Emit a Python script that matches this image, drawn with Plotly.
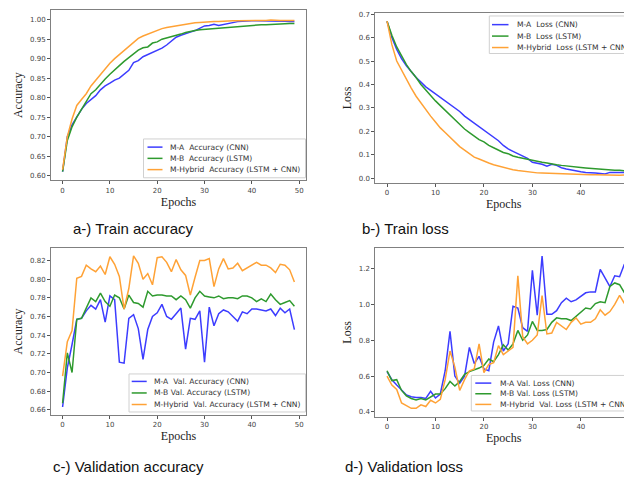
import plotly.graph_objects as go

epochs = list(range(50))

# a) Train accuracy
train_acc_cnn = [0.610, 0.700, 0.730, 0.750, 0.770, 0.785, 0.795, 0.805, 0.820, 0.830,
                 0.837, 0.845, 0.850, 0.860, 0.870, 0.890, 0.895, 0.905, 0.910, 0.915,
                 0.920, 0.927, 0.935, 0.945, 0.955, 0.960, 0.965, 0.968, 0.972, 0.978,
                 0.984, 0.985, 0.988, 0.985, 0.988, 0.990, 0.993, 0.995, 0.996, 0.997,
                 0.997, 0.997, 0.997, 0.997, 0.997, 0.996, 0.996, 0.996, 0.995, 0.995]
train_acc_lstm = [0.610, 0.690, 0.725, 0.750, 0.770, 0.790, 0.810, 0.820, 0.835, 0.848,
                  0.860, 0.872, 0.882, 0.893, 0.903, 0.913, 0.922, 0.928, 0.930, 0.940,
                  0.943, 0.950, 0.953, 0.956, 0.960, 0.963, 0.967, 0.970, 0.972, 0.974,
                  0.975, 0.977, 0.978, 0.979, 0.980, 0.981, 0.982, 0.983, 0.984, 0.985,
                  0.985, 0.986, 0.987, 0.987, 0.988, 0.988, 0.989, 0.990, 0.990, 0.990]
train_acc_hybrid = [0.615, 0.700, 0.745, 0.780, 0.795, 0.810, 0.830, 0.845, 0.860, 0.875,
                    0.888, 0.900, 0.910, 0.920, 0.930, 0.940, 0.952, 0.958, 0.963, 0.968,
                    0.972, 0.977, 0.980, 0.982, 0.984, 0.987, 0.989, 0.990, 0.992, 0.993,
                    0.994, 0.994, 0.995, 0.995, 0.996, 0.996, 0.997, 0.997, 0.997, 0.998,
                    0.998, 0.998, 0.998, 0.998, 0.999, 0.998, 0.998, 0.998, 0.998, 0.998]

# b) Train loss
train_loss_cnn = [0.670, 0.600, 0.550, 0.510, 0.480, 0.455, 0.430, 0.410, 0.390, 0.375,
                  0.360, 0.345, 0.330, 0.315, 0.300, 0.285, 0.265, 0.250, 0.235, 0.220,
                  0.205, 0.190, 0.175, 0.160, 0.140, 0.125, 0.115, 0.105, 0.095, 0.085,
                  0.068, 0.065, 0.060, 0.052, 0.060, 0.055, 0.045, 0.040, 0.035, 0.030,
                  0.028, 0.025, 0.025, 0.022, 0.020, 0.018, 0.025, 0.025, 0.025, 0.025]
train_loss_lstm = [0.670, 0.610, 0.560, 0.520, 0.485, 0.455, 0.430, 0.400, 0.375, 0.350,
                   0.330, 0.310, 0.290, 0.270, 0.250, 0.230, 0.210, 0.195, 0.180, 0.165,
                   0.155, 0.140, 0.130, 0.120, 0.110, 0.105, 0.095, 0.090, 0.085, 0.080,
                   0.075, 0.070, 0.068, 0.065, 0.060, 0.058, 0.055, 0.052, 0.050, 0.048,
                   0.046, 0.044, 0.042, 0.040, 0.040, 0.038, 0.036, 0.034, 0.034, 0.032]
train_loss_hybrid = [0.670, 0.570, 0.500, 0.460, 0.420, 0.385, 0.350, 0.320, 0.290, 0.265,
                     0.240, 0.215, 0.195, 0.175, 0.155, 0.135, 0.120, 0.105, 0.090, 0.082,
                     0.072, 0.065, 0.058, 0.052, 0.046, 0.040, 0.036, 0.033, 0.030, 0.027,
                     0.025, 0.023, 0.022, 0.021, 0.020, 0.019, 0.018, 0.017, 0.017, 0.016,
                     0.016, 0.015, 0.015, 0.015, 0.014, 0.014, 0.014, 0.014, 0.013, 0.014]

# c) Validation accuracy
val_acc_cnn = [0.663, 0.705, 0.730, 0.757, 0.758, 0.766, 0.772, 0.768, 0.778, 0.754,
               0.782, 0.778, 0.711, 0.710, 0.758, 0.762, 0.747, 0.714, 0.746, 0.760,
               0.764, 0.773, 0.760, 0.757, 0.763, 0.769, 0.725, 0.758, 0.757, 0.766,
               0.711, 0.770, 0.750, 0.763, 0.767, 0.765, 0.760, 0.755, 0.765, 0.763,
               0.768, 0.768, 0.767, 0.766, 0.768, 0.761, 0.769, 0.764, 0.768, 0.746]
val_acc_lstm = [0.667, 0.721, 0.700, 0.757, 0.758, 0.770, 0.780, 0.776, 0.785, 0.776,
                0.771, 0.783, 0.780, 0.768, 0.783, 0.775, 0.774, 0.770, 0.787, 0.782,
                0.783, 0.783, 0.782, 0.782, 0.778, 0.782, 0.778, 0.769, 0.780, 0.787,
                0.782, 0.781, 0.780, 0.782, 0.779, 0.780, 0.780, 0.779, 0.782, 0.782,
                0.780, 0.776, 0.779, 0.776, 0.784, 0.778, 0.773, 0.775, 0.777, 0.771]
val_acc_hybrid = [0.696, 0.733, 0.745, 0.801, 0.803, 0.815, 0.811, 0.808, 0.814, 0.805,
                  0.824, 0.816, 0.803, 0.768, 0.790, 0.825, 0.817, 0.800, 0.806, 0.794,
                  0.823, 0.824, 0.818, 0.808, 0.821, 0.810, 0.804, 0.783, 0.802, 0.820,
                  0.820, 0.822, 0.792, 0.811, 0.822, 0.811, 0.812, 0.817, 0.809, 0.812,
                  0.815, 0.818, 0.815, 0.815, 0.812, 0.807, 0.816, 0.815, 0.810, 0.797]

# d) Validation loss
val_loss_cnn = [0.625, 0.580, 0.550, 0.520, 0.495, 0.485, 0.480, 0.480, 0.475, 0.515,
                0.478, 0.500, 0.630, 0.850, 0.600, 0.560, 0.600, 0.760, 0.670, 0.710,
                0.640, 0.630, 0.790, 0.880, 0.740, 0.780, 0.990, 0.980, 0.870, 0.850,
                1.190, 0.940, 1.270, 0.945, 0.945, 0.965, 1.010, 1.035, 1.015, 1.025,
                1.045, 1.065, 1.070, 1.070, 1.195, 1.150, 1.100, 1.160, 1.155, 1.225]
val_loss_lstm = [0.630, 0.575, 0.580, 0.520, 0.490, 0.475, 0.467, 0.475, 0.467, 0.485,
                 0.500, 0.500, 0.530, 0.570, 0.545, 0.570, 0.610, 0.625, 0.635, 0.645,
                 0.660, 0.695, 0.680, 0.720, 0.775, 0.745, 0.780, 0.855, 0.800, 0.830,
                 0.905, 0.855, 0.855, 0.860, 0.900, 0.925, 0.920, 0.920, 0.910, 0.935,
                 0.955, 0.980, 0.975, 1.005, 1.015, 1.010, 1.100, 1.120, 1.110, 1.065]
val_loss_hybrid = [0.600, 0.550, 0.525, 0.450, 0.435, 0.420, 0.420, 0.440, 0.430, 0.465,
                   0.450, 0.470, 0.580, 0.740, 0.650, 0.520, 0.580, 0.630, 0.640, 0.780,
                   0.620, 0.665, 0.675, 0.770, 0.720, 0.740, 0.760, 1.160, 0.820, 0.780,
                   0.800, 0.830, 1.050, 0.835, 0.840, 0.900, 0.880, 0.860, 0.900, 0.925,
                   0.890, 0.900, 0.900, 0.920, 0.970, 0.940, 0.960, 1.000, 1.050, 1.005]

names_a = ["M-A  Accuracy (CNN)", "M-B  Accuracy (LSTM)", "M-Hybrid  Accuracy (LSTM + CNN)"]
names_b = ["M-A  Loss (CNN)", "M-B  Loss (LSTM)", "M-Hybrid  Loss (LSTM + CNN)"]
names_c = ["M-A  Val. Accuracy (CNN)", "M-B Val. Accuracy (LSTM)", "M-Hybrid  Val. Accuracy (LSTM + CNN)"]
names_d = ["M-A Val. Loss (CNN)", "M-B Val. Loss (LSTM)", "M-Hybrid  Val. Loss (LSTM + CNN)"]
captions = ["a-) Train accuracy", "b-) Train loss", "c-) Validation accuracy", "d-) Validation loss"]

colors = ["#3c3cff", "#2e9a2e", "#ffa236"]

# Window is 632x477, the page body has an 8px margin, so the figure is 624x469
# and window pixel (px, py) maps to paper coords below.
WIN_W, WIN_H = 632, 477
OFF = 8
W, H = WIN_W - OFF, WIN_H - OFF

def PX(px):
    return min(max((px - OFF) / W, 0.0), 1.0)

def PY(py):
    return min(max((WIN_H - py) / H, 0.0), 1.0)

fig = go.Figure()

panels = [
    ("x", "y", names_a, [train_acc_cnn, train_acc_lstm, train_acc_hybrid]),
    ("x2", "y2", names_b, [train_loss_cnn, train_loss_lstm, train_loss_hybrid]),
    ("x3", "y3", names_c, [val_acc_cnn, val_acc_lstm, val_acc_hybrid]),
    ("x4", "y4", names_d, [val_loss_cnn, val_loss_lstm, val_loss_hybrid]),
]
for xa, ya, names, series in panels:
    for name, vals, col in zip(names, series, colors):
        fig.add_trace(go.Scatter(x=epochs, y=vals, mode="lines", name=name,
                                 line=dict(color=col, width=1.5),
                                 xaxis=xa, yaxis=ya, showlegend=False))

tickfont = dict(family="DejaVu Sans", size=7, color="#444444")
titlefont = dict(family="Liberation Serif", size=12, color="#222222")
framecol = "#808080"

def xax(l, r, anchor, rng):
    return dict(domain=[PX(l), PX(r)], anchor=anchor, range=rng,
                tickmode="linear", tick0=0, dtick=10,
                ticks="outside", ticklen=3, tickcolor="#555555", tickfont=tickfont,
                showline=True, linecolor=framecol, linewidth=1, mirror=True,
                showgrid=False, zeroline=False,
                title=dict(text="Epochs", font=titlefont, standoff=2))

def yax(top, bot, anchor, rng, dtick, fmt, mirror=True, title=""):
    return dict(domain=[PY(bot), PY(top)], anchor=anchor, range=rng,
                tickmode="linear", tick0=0, dtick=dtick, tickformat=fmt,
                ticks="outside", ticklen=3, tickcolor="#555555", tickfont=tickfont,
                showline=True, linecolor=framecol, linewidth=1, mirror=mirror,
                showgrid=False, zeroline=False,
                title=dict(text=title, font=titlefont, standoff=4))

fig.update_layout(
    width=W, height=H, margin=dict(l=0, r=0, t=0, b=0),
    paper_bgcolor="white", plot_bgcolor="white", showlegend=False,
    xaxis=xax(51, 306, "y", [-2.45, 51.45]),
    yaxis=yax(8.0, 179, "x", [0.588, 1.0248], 0.05, ".2f", title="Accuracy"),
    xaxis2=xax(375.3, 632, "y2", [-2.42, 50.56]),
    yaxis2=yax(11, 181.7, "x2", [-0.020, 0.705], 0.1, ".1f", mirror=False, title="Loss"),
    xaxis3=xax(51, 306, "y3", [-2.45, 51.45]),
    yaxis3=yax(247.3, 414.3, "x3", [0.6549, 0.8331], 0.02, ".2f", title="Accuracy"),
    xaxis4=xax(375.3, 632, "y4", [-2.42, 50.56]),
    yaxis4=yax(246.7, 416.7, "x4", [0.372, 1.3167], 0.2, ".1f", mirror=False, title="Loss"),
)

# Legend boxes drawn in the matplotlib style (compact rows)
# (box left, top, right, bottom, line x0, line x1, text x, first row y, row step)
legend_boxes = [
    (143.5, 137.5, 305.5, 176.5, 147.5, 162.5, 168.5, 145.7, 11.3),
    (489.3, 14.0, 633.0, 51.7, 492.0, 508.5, 514.5, 22.7, 11.5),
    (129.0, 373.5, 305.5, 411.7, 131.7, 146.7, 152.3, 381.0, 11.6),
    (471.3, 375.0, 633.0, 410.7, 475.3, 491.3, 498.0, 382.7, 10.7),
]
legend_names = [names_a, names_b, names_c, names_d]
for (bl, bt, br, bb, lx0, lx1, tx, ry0, dy), names in zip(legend_boxes, legend_names):
    fig.add_shape(type="rect", xref="paper", yref="paper",
                  x0=PX(bl), x1=PX(br), y0=PY(bb), y1=PY(bt),
                  line=dict(color="#d0d0d0", width=1), fillcolor="rgba(255,255,255,0.85)",
                  layer="above")
    for i, (name, col) in enumerate(zip(names, colors)):
        ry = ry0 + i * dy
        fig.add_shape(type="line", xref="paper", yref="paper",
                      x0=PX(lx0), x1=PX(lx1), y0=PY(ry), y1=PY(ry),
                      line=dict(color=col, width=1.5), layer="above")
        fig.add_annotation(text=name.replace("  ", "\u00a0 "), x=PX(tx), y=PY(ry),
                           xref="paper", yref="paper", showarrow=False,
                           xanchor="left", yanchor="middle",
                           font=dict(family="DejaVu Sans", size=7.6, color="#333333"))

cap_pos = [(133, 227), (405, 227), (128, 466), (404, 466)]
for text, (cx, cy) in zip(captions, cap_pos):
    fig.add_annotation(text=text, x=PX(cx), y=PY(cy), xref="paper", yref="paper",
                       showarrow=False, xanchor="center", yanchor="middle",
                       font=dict(family="Liberation Sans", size=15, color="#111111"))

fig.write_html("out.html")
